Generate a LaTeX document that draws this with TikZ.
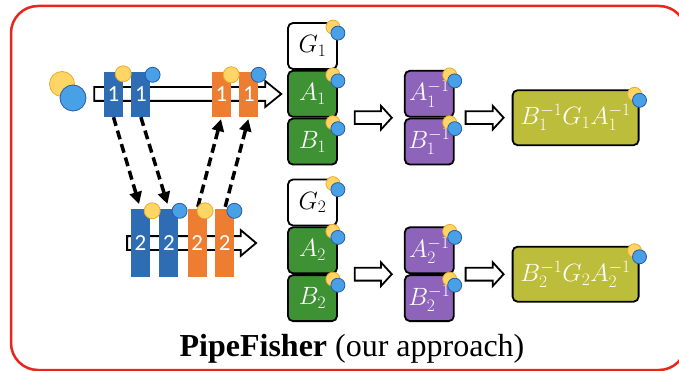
\documentclass[tikz,border=0pt]{standalone}
\usepackage{fix-cm}
\usepackage{fontspec}
\usetikzlibrary{shapes.arrows, arrows.meta, positioning}
\newfontfamily\barfont{Carlito}
\newfontfamily\capfont{Liberation Serif}
\definecolor{pfred}{RGB}{232,38,30}
\definecolor{pfblue}{RGB}{46,109,180}
\definecolor{pforange}{RGB}{237,125,49}
\definecolor{pfgreen}{RGB}{62,146,52}
\definecolor{pfpurple}{RGB}{142,99,186}
\definecolor{pfolive}{RGB}{188,189,58}
\definecolor{tokyellow}{RGB}{255,214,102}
\definecolor{tokyedge}{RGB}{232,172,44}
\definecolor{tokblue}{RGB}{72,160,230}
\definecolor{tokbedge}{RGB}{40,90,170}

\tikzset{
  stage/.style={rectangle, inner sep=0pt, minimum width=19pt, text=white,
    font=\barfont\fontsize{23}{23}\selectfont},
  mat/.style={draw=black, line width=1.8pt, rounded corners=5pt, minimum width=49pt,
    minimum height=46pt, inner sep=0pt, font=\fontsize{25}{26}\selectfont},
  hollow/.style={single arrow, draw=black, fill=white, line width=1.8pt, inner xsep=0pt,
    inner ysep=5.5pt, single arrow head extend=5.5pt, single arrow tip angle=95},
  dasharrow/.style={-{Triangle[length=12pt,width=12pt]}, line width=3.5pt,
    dash pattern=on 9pt off 5pt},
}
\newcommand{\ytok}[2]{\draw[fill=tokyellow, draw=tokyedge, line width=0.8pt] (#1) circle (#2);}
\newcommand{\btok}[2]{\draw[fill=tokblue, draw=tokbedge, line width=0.8pt] (#1) circle (#2);}
\newcommand{\tokpair}[1]{\ytok{[shift={(-5,5)}]#1.north east}{7}\btok{[shift={(0,11)}]#1.north east}{7}}

\begin{document}
\begin{tikzpicture}[x=1pt, y=-1pt]
\useasboundingbox (0,0) rectangle (679,371);
\fill[white] (0,0) rectangle (679,371);
\draw[pfred, line width=2.5pt, rounded corners=27pt] (11,6) rectangle (686,370);

% pipeline, first micro-batch
\node[hollow, minimum height=187pt, single arrow tip angle=78, inner ysep=6pt, single arrow head extend=6pt] (pipe1) at (183.5,94) {};
\node[stage, fill=pfblue, minimum height=45pt] (b1a) at (113.5,94.5) {1};
\node[stage, fill=pfblue, minimum height=45pt, right=8pt of b1a] (b1b) {1};
\node[stage, fill=pforange, minimum height=45pt] (o1a) at (221.5,94.5) {1};
\node[stage, fill=pforange, minimum height=45pt, right=8pt of o1a] (o1b) {1};

% pipeline, second micro-batch
\node[hollow, minimum height=129pt, single arrow tip angle=80, inner ysep=6pt, single arrow head extend=6pt] (pipe2) at (187.5,243) {};
\node[stage, fill=pfblue, minimum height=68pt] (b2a) at (140.5,243) {2};
\node[stage, fill=pfblue, minimum height=68pt, right=9pt of b2a] (b2b) {2};
\node[stage, fill=pforange, minimum height=68pt, right=9pt of b2b] (o2a) {2};
\node[stage, fill=pforange, minimum height=68pt, right=8pt of o2a] (o2b) {2};

\draw[dasharrow, shorten >=5pt] (b1a.south) -- (b2a.north);
\draw[dasharrow, shorten >=5pt] (b1b.south) -- (b2b.north);
\draw[dasharrow, shorten <=2pt, shorten >=2pt] (o2a.north) -- (o1a.south);
\draw[dasharrow, shorten <=2pt, shorten >=2pt] (o2b.north) -- (o1b.south);

% tokens
\ytok{62,84}{12.5}
\btok{73,98}{13}
\ytok{[shift={(0,2)}]b1a.north east}{8}
\btok{[shift={(2,3)}]b1b.north east}{7.5}
\ytok{[shift={(0,3)}]o1a.north east}{8}
\btok{[shift={(0,3)}]o1b.north east}{7.5}
\ytok{[shift={(2,2)}]b2a.north east}{8}
\btok{[shift={(1,2)}]b2b.north east}{7.5}
\ytok{[shift={(-2,2)}]o2a.north east}{8}
\btok{[shift={(0,2)}]o2b.north east}{7.5}

% curvature, first row
\node[mat, fill=white] (G1) at (312.5,46) {$G_1$};
\node[mat, fill=pfgreen, text=white, below=0pt of G1] (A1) {$A_1$};
\node[mat, fill=pfgreen, text=white, below=0pt of A1] (B1) {$B_1$};
\node[mat, fill=pfpurple, text=white, right=66pt of A1] (A1inv) {$A_1^{-1}$};
\node[mat, fill=pfpurple, text=white, below=0pt of A1inv] (B1inv) {$B_1^{-1}$};
\node[mat, fill=pfolive, text=white, minimum width=126pt, minimum height=55pt, anchor=west] (P1) at ([xshift=57pt]A1inv.south east) {$B_1^{-1}G_1A_1^{-1}$};
\node[hollow, minimum height=37pt, anchor=west] (ar1) at ([xshift=16pt]A1.south east) {};
\node[hollow, minimum height=38pt, anchor=west] (ar2) at ([xshift=10pt]A1inv.south east) {};

% curvature, second row
\node[mat, fill=white] (G2) at (312.5,202.5) {$G_2$};
\node[mat, fill=pfgreen, text=white, below=0pt of G2] (A2) {$A_2$};
\node[mat, fill=pfgreen, text=white, below=0pt of A2] (B2) {$B_2$};
\node[mat, fill=pfpurple, text=white, right=66pt of A2] (A2inv) {$A_2^{-1}$};
\node[mat, fill=pfpurple, text=white, below=0pt of A2inv] (B2inv) {$B_2^{-1}$};
\node[mat, fill=pfolive, text=white, minimum width=126pt, minimum height=55pt, anchor=west] (P2) at ([xshift=57pt]A2inv.south east) {$B_2^{-1}G_2A_2^{-1}$};
\node[hollow, minimum height=37pt, anchor=west] (ar3) at ([xshift=16pt]A2.south east) {};
\node[hollow, minimum height=38pt, anchor=west] (ar4) at ([xshift=10pt]A2inv.south east) {};

\foreach \m in {G1,A1,B1,A1inv,B1inv,P1,G2,A2,B2,A2inv,B2inv,P2}
  {\tokpair{\m}}

\node[font=\capfont\fontsize{32}{34}\selectfont, anchor=base] (title) at (352,356) {\textbf{PipeFisher} (our approach)};
\end{tikzpicture}
\end{document}
